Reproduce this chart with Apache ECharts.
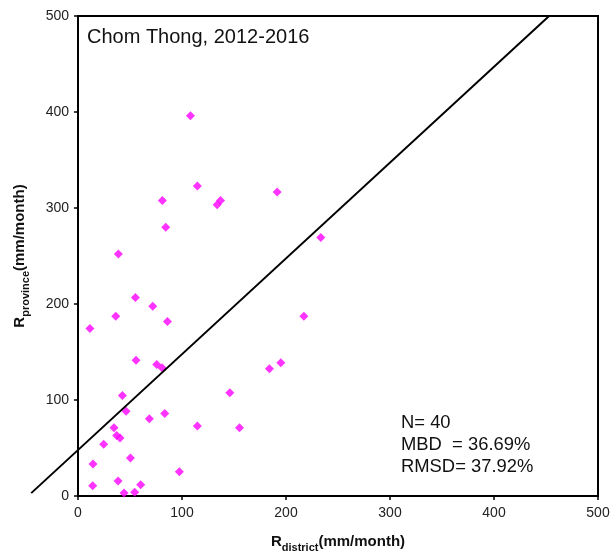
<!DOCTYPE html>
<html>
<head>
<meta charset="utf-8">
<script src="https://cdn.jsdelivr.net/npm/echarts@6/dist/echarts.min.js"></script>
<style>
  html, body { margin: 0; padding: 0; background: #fff; }
  #chart { width: 610px; height: 554px; }
</style>
</head>
<body>
<div id="chart"></div>
<script>
// Monthly rainfall, district gauge vs. province estimate (mm/month)
const rDistrict = [11.5, 14.4, 14.1, 24.7, 34.6, 37.2, 40.4, 36.3, 42.7, 46.2,
                   38.5, 44.3, 50.4, 54.5, 60.3, 55.2, 55.8, 71.9, 68.6, 75.7,
                   80.8, 86.0, 83.4, 97.5, 114.8, 146.0, 155.3, 184.1, 195.0, 217.2,
                   108.1, 114.8, 81.1, 84.4, 38.8, 133.8, 137.0, 191.5, 233.5];
const rProvince = [174.5, 33.3, 10.8, 53.8, 71.1, 63.1, 60.4, 187.3, 104.8, 88.4,
                   15.6, 3.1, 39.5, 3.8, 11.8, 206.7, 141.5, 197.7, 80.5, 136.9,
                   133.6, 181.7, 86.0, 25.3, 72.8, 107.5, 71.1, 132.6, 138.8, 187.3,
                   396.1, 322.9, 307.7, 279.9, 252.1, 303.5, 307.7, 316.7, 269.2];

// Reference line end points (it runs past the y axis on the left)
const lineX = [-45, 453];
const lineY = [3, 500];

const titleText = 'Chom Thong, 2012-2016';
const statsLines = ['N= 40', 'MBD  = 36.69%', 'RMSD= 37.92%'];

const points = rDistrict.map((x, i) => [x, rProvince[i]]);
const segment = [[lineX[0], lineY[0], lineX[1], lineY[1]]];

const FONT = '"Liberation Sans", Arial, sans-serif';
const nameRich = {
  r: { fontFamily: FONT, fontWeight: 'bold', fontSize: 15, color: '#111', lineHeight: 22 },
  s: { fontFamily: FONT, fontWeight: 'bold', fontSize: 11, color: '#111', lineHeight: 12, verticalAlign: 'bottom' },
  u: { fontFamily: FONT, fontWeight: 'bold', fontSize: 15, color: '#111', lineHeight: 22 }
};

const chart = echarts.init(document.getElementById('chart'), null, { renderer: 'canvas' });
chart.setOption({
  animation: false,
  backgroundColor: '#fff',
  grid: {
    left: 78, top: 16, width: 520, height: 480,
    outerBoundsMode: 'none', containLabel: false,
    show: true, borderColor: '#000', borderWidth: 2, backgroundColor: 'transparent'
  },
  xAxis: {
    type: 'value', min: 0, max: 500, interval: 100,
    axisLine: { show: true, onZero: false, lineStyle: { color: '#000', width: 2 } },
    axisTick: { show: true, inside: false, length: 4, lineStyle: { color: '#000', width: 1.5 } },
    axisLabel: { fontFamily: FONT, fontSize: 14, color: '#222', margin: 10 },
    splitLine: { show: false },
    name: '{r|R}{s|district}{u|(mm/month)}',
    nameLocation: 'middle', nameGap: 35,
    nameTextStyle: { rich: nameRich }
  },
  yAxis: {
    type: 'value', min: 0, max: 500, interval: 100,
    axisLine: { show: true, onZero: false, lineStyle: { color: '#000', width: 2 } },
    axisTick: { show: true, inside: false, length: 4, lineStyle: { color: '#000', width: 1.5 } },
    axisLabel: { fontFamily: FONT, fontSize: 14, color: '#222', margin: 9 },
    splitLine: { show: false },
    name: '{r|R}{s|province}{u|(mm/month)}',
    nameLocation: 'middle', nameGap: 47, nameRotate: 90,
    nameTextStyle: { rich: nameRich }
  },
  series: [
    {
      type: 'scatter',
      data: points,
      symbol: 'diamond',
      symbolSize: [9, 9],
      itemStyle: { color: '#ff00ff' },
      z: 2
    },
    {
      // straight segment mapped through the axes, allowed to leave the plot area
      type: 'custom',
      data: segment,
      clip: false,
      encode: { x: [0, 2], y: [1, 3] },
      renderItem: function (params, api) {
        const p0 = api.coord([api.value(0), api.value(1)]);
        const p1 = api.coord([api.value(2), api.value(3)]);
        return {
          type: 'line',
          shape: { x1: p0[0], y1: p0[1], x2: p1[0], y2: p1[1] },
          style: { stroke: '#000', lineWidth: 2 }
        };
      },
      z: 3
    }
  ],
  graphic: [
    {
      type: 'text', left: 87, top: 27,
      style: { text: titleText, font: '20px ' + FONT, fill: '#111' }
    },
    {
      type: 'group', left: 401, top: 414,
      children: statsLines.map((t, i) => ({
        type: 'text', x: 0, y: i * 22,
        style: { text: t, font: '18.4px ' + FONT, fill: '#111' }
      }))
    }
  ]
});
</script>
</body>
</html>
